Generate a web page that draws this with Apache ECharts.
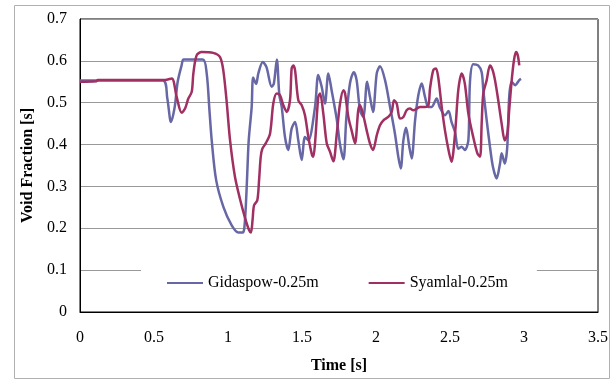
<!DOCTYPE html>
<html>
<head>
<meta charset="utf-8">
<script src="https://cdn.jsdelivr.net/npm/echarts@6/dist/echarts.min.js"></script>
<style>html,body{margin:0;padding:0;background:#fff;}#c{width:611px;height:380px;}</style>
</head>
<body>
<div id="c"></div>
<script>
var seriesNames = ["Gidaspow-0.25m", "Syamlal-0.25m"];
var xTicks = [0, 0.5, 1, 1.5, 2, 2.5, 3, 3.5];
var yTicks = [0, 0.1, 0.2, 0.3, 0.4, 0.5, 0.6, 0.7];

var timeG = [0, 0.56, 0.59, 0.615, 0.64, 0.66, 0.687, 0.70, 0.83, 0.856, 0.875, 0.89, 0.92, 0.97, 1.025, 1.07, 1.10, 1.11, 1.12, 1.13, 1.14, 1.16, 1.17, 1.19, 1.205, 1.235, 1.26, 1.295, 1.31, 1.33, 1.347, 1.363, 1.385, 1.407, 1.43, 1.453, 1.475, 1.498, 1.52, 1.543, 1.588, 1.61, 1.633, 1.655, 1.678, 1.70, 1.735, 1.757, 1.78, 1.80, 1.824, 1.85, 1.869, 1.892, 1.914, 1.94, 1.959, 1.98, 2.005, 2.027, 2.061, 2.095, 2.128, 2.151, 2.167, 2.185, 2.203, 2.225, 2.241, 2.264, 2.286, 2.309, 2.331, 2.354, 2.376, 2.41, 2.43, 2.466, 2.49, 2.51, 2.534, 2.556, 2.579, 2.60, 2.624, 2.635, 2.657, 2.69, 2.714, 2.725, 2.748, 2.77, 2.79, 2.815, 2.838, 2.849, 2.87, 2.887, 2.90, 2.917, 2.94, 2.968, 2.98];
var voidG = [0.553, 0.553, 0.51, 0.454, 0.49, 0.55, 0.59, 0.603, 0.603, 0.57, 0.48, 0.41, 0.315, 0.25, 0.207, 0.19, 0.19, 0.20, 0.25, 0.33, 0.41, 0.49, 0.56, 0.545, 0.57, 0.597, 0.585, 0.538, 0.546, 0.603, 0.518, 0.49, 0.418, 0.387, 0.438, 0.454, 0.41, 0.363, 0.418, 0.41, 0.49, 0.566, 0.538, 0.498, 0.57, 0.53, 0.46, 0.40, 0.365, 0.466, 0.546, 0.573, 0.554, 0.482, 0.466, 0.55, 0.514, 0.478, 0.57, 0.587, 0.554, 0.49, 0.426, 0.37, 0.343, 0.41, 0.44, 0.395, 0.367, 0.458, 0.518, 0.546, 0.514, 0.49, 0.49, 0.51, 0.49, 0.47, 0.48, 0.454, 0.43, 0.39, 0.395, 0.387, 0.41, 0.55, 0.592, 0.589, 0.573, 0.53, 0.458, 0.395, 0.347, 0.319, 0.355, 0.379, 0.355, 0.395, 0.514, 0.55, 0.542, 0.554, 0.557];

var timeS = [0, 0.11, 0.12, 0.574, 0.62, 0.653, 0.687, 0.71, 0.732, 0.755, 0.766, 0.788, 0.822, 0.90, 0.946, 0.968, 0.99, 1.014, 1.047, 1.081, 1.115, 1.142, 1.155, 1.166, 1.176, 1.198, 1.21, 1.221, 1.232, 1.255, 1.284, 1.306, 1.329, 1.351, 1.374, 1.397, 1.419, 1.43, 1.441, 1.453, 1.475, 1.498, 1.52, 1.543, 1.565, 1.576, 1.588, 1.61, 1.622, 1.644, 1.667, 1.689, 1.712, 1.735, 1.757, 1.78, 1.791, 1.813, 1.835, 1.858, 1.88, 1.892, 1.914, 1.937, 1.959, 1.98, 2.005, 2.027, 2.05, 2.083, 2.106, 2.122, 2.14, 2.162, 2.185, 2.207, 2.23, 2.252, 2.275, 2.297, 2.331, 2.354, 2.365, 2.387, 2.405, 2.42, 2.444, 2.466, 2.49, 2.51, 2.534, 2.556, 2.579, 2.60, 2.624, 2.657, 2.685, 2.703, 2.714, 2.725, 2.748, 2.77, 2.788, 2.804, 2.826, 2.849, 2.87, 2.887, 2.90, 2.917, 2.932, 2.946, 2.958, 2.968];
var voidS = [0.550, 0.551, 0.554, 0.554, 0.558, 0.514, 0.476, 0.486, 0.51, 0.526, 0.57, 0.613, 0.621, 0.619, 0.609, 0.578, 0.506, 0.41, 0.323, 0.27, 0.225, 0.196, 0.19, 0.22, 0.255, 0.267, 0.315, 0.37, 0.39, 0.403, 0.426, 0.498, 0.522, 0.518, 0.494, 0.478, 0.506, 0.582, 0.589, 0.578, 0.506, 0.494, 0.47, 0.418, 0.379, 0.371, 0.403, 0.514, 0.522, 0.474, 0.403, 0.383, 0.36, 0.426, 0.498, 0.53, 0.522, 0.466, 0.434, 0.403, 0.482, 0.494, 0.47, 0.434, 0.403, 0.387, 0.422, 0.446, 0.458, 0.466, 0.478, 0.506, 0.498, 0.462, 0.466, 0.482, 0.486, 0.482, 0.486, 0.49, 0.49, 0.494, 0.534, 0.578, 0.582, 0.562, 0.49, 0.434, 0.387, 0.359, 0.426, 0.53, 0.57, 0.546, 0.474, 0.418, 0.379, 0.371, 0.45, 0.522, 0.554, 0.589, 0.578, 0.554, 0.506, 0.45, 0.41, 0.426, 0.482, 0.554, 0.601, 0.621, 0.613, 0.589];

function pairs(t, v) { return t.map(function (x, i) { return [x, v[i]]; }); }

var font = 'Liberation Serif';
var chart = echarts.init(document.getElementById('c'), null, { renderer: 'canvas' });
chart.setOption({
  animation: false,
  backgroundColor: '#fff',
  textStyle: { fontFamily: font },
  grid: { left: 80, right: 13, top: 19, bottom: 68, show: true, borderColor: '#000', borderWidth: 1, backgroundColor: 'transparent', containLabel: false },
  graphic: [{
    type: 'rect', left: 12, top: 3, shape: { width: 595, height: 373 },
    style: { fill: 'none', stroke: '#b0b0b0', lineWidth: 1 }, z: -1
  }],
  legend: {
    data: seriesNames,
    left: 141, top: 262,
    padding: [13, 29, 13, 26],
    backgroundColor: '#fff',
    itemGap: 50,
    icon: 'rect', itemWidth: 36, itemHeight: 2,
    textStyle: { fontFamily: font, fontSize: 16, color: '#000' },
    z: 10
  },
  xAxis: {
    type: 'value', min: 0, max: 3.5, interval: 0.5,
    name: 'Time [s]', nameLocation: 'middle', nameGap: 46,
    nameTextStyle: { fontFamily: font, fontSize: 16, fontWeight: 'bold', color: '#000' },
    axisLine: { show: true, lineStyle: { color: '#000' } },
    axisTick: { show: false },
    splitLine: { show: false },
    axisLabel: { margin: 18, fontFamily: font, fontSize: 16, color: '#000',
      formatter: function (v) { return String(v); } }
  },
  yAxis: {
    type: 'value', min: 0, max: 0.7, interval: 0.1,
    name: 'Void Fraction [s]', nameLocation: 'middle', nameGap: 44,
    nameTextStyle: { fontFamily: font, fontSize: 16, fontWeight: 'bold', color: '#000' },
    axisLine: { show: true, lineStyle: { color: '#000' } },
    axisTick: { show: false },
    splitLine: { show: true, lineStyle: { color: '#999', width: 1 } },
    axisLabel: { margin: 13, fontFamily: font, fontSize: 16, color: '#000',
      formatter: function (v) { return v === 0 ? '0' : v.toFixed(1); } }
  },
  series: [
    { name: seriesNames[0], type: 'line', data: pairs(timeG, voidG), showSymbol: false, symbol: 'none', smooth: 0.3,
      lineStyle: { color: '#6767A6', width: 2.5 }, itemStyle: { color: '#6767A6' } },
    { name: seriesNames[1], type: 'line', data: pairs(timeS, voidS), showSymbol: false, symbol: 'none', smooth: 0.3,
      lineStyle: { color: '#A02F62', width: 2.5 }, itemStyle: { color: '#A02F62' } }
  ]
});
</script>
</body>
</html>
